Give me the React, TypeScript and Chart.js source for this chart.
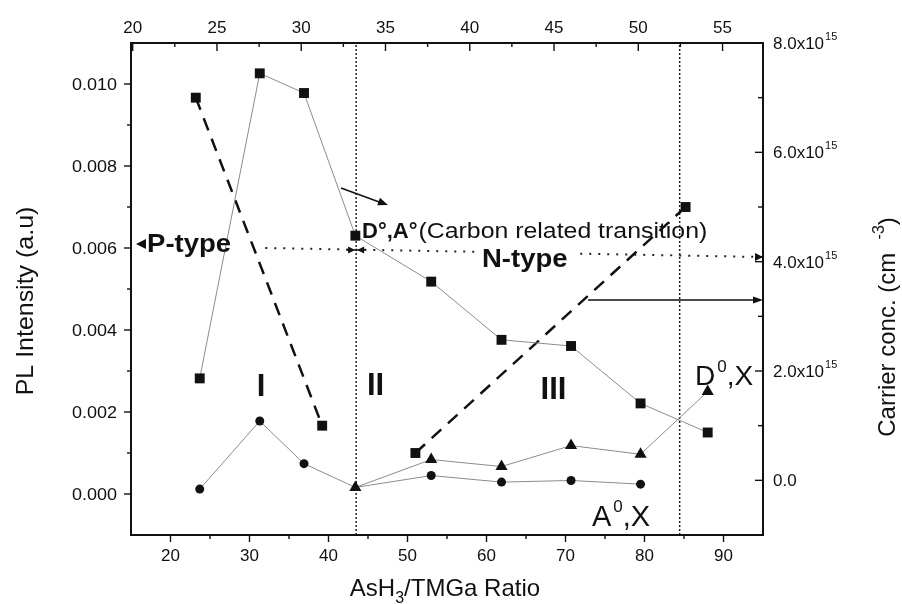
import React, { useEffect, useRef } from 'react';
import { Chart, registerables } from 'chart.js';

Chart.register(...registerables);

// ---------- data ----------
const ratioDA = [23.7, 31.3, 36.9, 43.4, 53.0, 61.9, 70.7, 79.5, 88.0];
const plDA = [0.00282, 0.01026, 0.00978, 0.0063, 0.00518, 0.00376, 0.00361, 0.00221, 0.0015];

const ratioAX = [23.7, 31.3, 36.9, 43.4, 53.0, 61.9, 70.7, 79.5];
const plAX = [0.00012, 0.00178, 0.00074, 0.00016, 0.00045, 0.00029, 0.00033, 0.00024];

const ratioDX = [43.4, 53.0, 61.9, 70.7, 79.5, 88.0];
const plDX = [0.00016, 0.00084, 0.00067, 0.00118, 0.00097, 0.0025];

const ratioPType = [23.2, 39.2];
const concPType = [7.0e15, 1.0e15];
const ratioNType = [51.0, 85.2];
const concNType = [0.5e15, 5.0e15];

const regionBounds = [43.5, 84.45];
const typeLineRatio = [32.0, 95];
const typeLinePL = [0.006, 0.00578];

// ---------- axes ----------
const xMajor = [20, 30, 40, 50, 60, 70, 80, 90];
const xLabels = ['20', '30', '40', '50', '60', '70', '80', '90'];
const xMinor = [25, 35, 45, 55, 65, 75, 85];
const topMajor = [20, 25, 30, 35, 40, 45, 50, 55];
const topLabels = ['20', '25', '30', '35', '40', '45', '50', '55'];
const topMinor = [22.5, 27.5, 32.5, 37.5, 42.5, 47.5, 52.5];
const leftMajor = [0, 0.002, 0.004, 0.006, 0.008, 0.01];
const leftLabels = ['0.000', '0.002', '0.004', '0.006', '0.008', '0.010'];
const leftMinor = [0.001, 0.003, 0.005, 0.007, 0.009];
const rightMajor = [0, 2e15, 4e15, 6e15, 8e15];
const rightMantissa = ['0.0', '2.0x10', '4.0x10', '6.0x10', '8.0x10'];
const rightExponent = ['', '15', '15', '15', '15'];
const rightMinor = [1e15, 3e15, 5e15, 7e15];

const FONT = '"Liberation Sans", Arial, Helvetica, sans-serif';
const NARROW = '"Liberation Sans Narrow", "Arial Narrow", "Liberation Sans", Arial, sans-serif';
const INK = '#111';

function pts(xs: number[], ys: number[]) {
  return xs.map((x, i) => ({ x, y: ys[i] }));
}

type TOpt = { bold?: boolean; align?: CanvasTextAlign; sx?: number; rot?: number; family?: string };

function font(size: number, o: TOpt = {}) {
  return `${o.bold ? 'bold ' : ''}${size}px ${o.family || FONT}`;
}

function drawText(ctx: CanvasRenderingContext2D, s: string, x: number, y: number, size: number, o: TOpt = {}) {
  ctx.save();
  ctx.translate(x, y);
  if (o.rot) ctx.rotate(o.rot);
  ctx.scale(o.sx || 1, 1);
  ctx.font = font(size, o);
  ctx.textAlign = o.align || 'left';
  ctx.textBaseline = 'alphabetic';
  ctx.fillText(s, 0, 0);
  ctx.restore();
}

function textW(ctx: CanvasRenderingContext2D, s: string, size: number, o: TOpt = {}) {
  ctx.save();
  ctx.font = font(size, o);
  const w = ctx.measureText(s).width * (o.sx || 1);
  ctx.restore();
  return w;
}

function head(ctx: CanvasRenderingContext2D, x: number, y: number, ang: number, len: number, half: number) {
  ctx.save();
  ctx.translate(x, y);
  ctx.rotate(ang);
  ctx.beginPath();
  ctx.moveTo(0, 0);
  ctx.lineTo(-len, -half);
  ctx.lineTo(-len, half);
  ctx.closePath();
  ctx.fill();
  ctx.restore();
}

function line(ctx: CanvasRenderingContext2D, x1: number, y1: number, x2: number, y2: number) {
  ctx.beginPath();
  ctx.moveTo(x1, y1);
  ctx.lineTo(x2, y2);
  ctx.stroke();
}

const overlay = {
  id: 'overlay',
  afterDatasetsDraw(chart: any) {
    const ctx: CanvasRenderingContext2D = chart.ctx;
    const ca = chart.chartArea;
    const xs = chart.scales.x, ys = chart.scales.y, xt = chart.scales.x2, yr = chart.scales.y2;
    const X = (v: number) => xs.getPixelForValue(v);
    const Y = (v: number) => ys.getPixelForValue(v);
    ctx.save();
    ctx.fillStyle = INK;
    ctx.strokeStyle = INK;
    ctx.lineCap = 'butt';

    // frame
    ctx.lineWidth = 2;
    ctx.strokeRect(ca.left, ca.top, ca.right - ca.left, ca.bottom - ca.top);

    // tick marks
    ctx.lineWidth = 1.4;
    xMajor.forEach(v => line(ctx, X(v), ca.bottom, X(v), ca.bottom + 7));
    xMinor.forEach(v => line(ctx, X(v), ca.bottom, X(v), ca.bottom + 4));
    topMajor.forEach(v => { const p = xt.getPixelForValue(v); line(ctx, p, ca.top, p, ca.top + 8); });
    topMinor.forEach(v => { const p = xt.getPixelForValue(v); line(ctx, p, ca.top, p, ca.top + 4); });
    leftMajor.forEach(v => line(ctx, ca.left, Y(v), ca.left - 7, Y(v)));
    leftMinor.forEach(v => line(ctx, ca.left, Y(v), ca.left - 4, Y(v)));
    rightMajor.forEach(v => { const p = yr.getPixelForValue(v); line(ctx, ca.right, p, ca.right - 8, p); });
    rightMinor.forEach(v => { const p = yr.getPixelForValue(v); line(ctx, ca.right, p, ca.right - 5, p); });

    // tick labels
    xMajor.forEach((v, i) => drawText(ctx, xLabels[i], X(v), ca.bottom + 26, 17, { align: 'center' }));
    topMajor.forEach((v, i) => drawText(ctx, topLabels[i], xt.getPixelForValue(v), ca.top - 10, 17, { align: 'center' }));
    leftMajor.forEach((v, i) => drawText(ctx, leftLabels[i], ca.left - 14, Y(v) + 6, 17, { align: 'right', sx: 1.06 }));
    rightMajor.forEach((v, i) => {
      const p = yr.getPixelForValue(v);
      const x0 = ca.right + 10;
      drawText(ctx, rightMantissa[i], x0, p + 6, 17);
      if (rightExponent[i]) {
        const w = textW(ctx, rightMantissa[i], 17);
        drawText(ctx, rightExponent[i], x0 + w + 1, p - 3, 11);
      }
    });

    // axis titles
    drawText(ctx, 'PL Intensity (a.u)', 33, 301, 24, { align: 'center', rot: -Math.PI / 2, sx: 1.04 });
    {
      const a = 'AsH', b = '3', c = '/TMGa Ratio';
      const wa = textW(ctx, a, 24), wb = textW(ctx, b, 16), wc = textW(ctx, c, 24);
      let x0 = 445 - (wa + wb + wc) / 2;
      const base = 596;
      drawText(ctx, a, x0, base, 24); x0 += wa;
      drawText(ctx, b, x0, base + 7, 16); x0 += wb;
      drawText(ctx, c, x0, base, 24);
    }
    {
      const a = 'Carrier conc. (cm  ', b = '-3', c = ')';
      const wa = textW(ctx, a, 24), wb = textW(ctx, b, 16), wc = textW(ctx, c, 24);
      ctx.save();
      ctx.translate(895, 327);
      ctx.rotate(-Math.PI / 2);
      let x0 = -(wa + wb + wc) / 2;
      drawText(ctx, a, x0, 0, 24); x0 += wa;
      drawText(ctx, b, x0, -11, 16); x0 += wb;
      drawText(ctx, c, x0, 0, 24);
      ctx.restore();
    }

    // P-type / N-type
    drawText(ctx, 'P-type', X(17.03), Y(0.0059), 25, { bold: true, sx: 1.1 });
    head(ctx, X(15.63), Y(0.0061), Math.PI, 10, 5);
    {
      const nx = X(59.43), ny = Y(0.005537);
      const w = textW(ctx, 'N-type', 25, { bold: true, sx: 1.1 });
      ctx.fillStyle = '#fff';
      ctx.fillRect(nx - 7, ny - 22, w + 14, 26);
      ctx.fillStyle = INK;
      drawText(ctx, 'N-type', nx, ny, 25, { bold: true, sx: 1.1 });
    }
    head(ctx, ca.right, Y(0.00578), 0, 8, 4);

    // D°,A° label
    {
      const x0 = X(44.24), y0 = Y(0.006244);
      drawText(ctx, 'D°,A°', x0, y0, 22, { bold: true });
      const w = textW(ctx, 'D°,A°', 22, { bold: true });
      drawText(ctx, '(Carbon related transition)', x0 + w + 1, y0, 22, { sx: 1.13 });
    }

    // region numerals
    drawText(ctx, 'I', X(31.46), Y(0.00239), 31, { align: 'center', family: NARROW, bold: true });
    drawText(ctx, 'II', X(45.95), Y(0.002415), 31, { align: 'center', family: NARROW, bold: true });
    drawText(ctx, 'III', X(68.48), Y(0.002317), 31, { align: 'center', family: NARROW, bold: true });

    // D0,X and A0,X labels
    {
      let x0 = X(86.39); const y0 = Y(0.002659);
      drawText(ctx, 'D', x0, y0, 28); x0 += textW(ctx, 'D', 28) + 2;
      drawText(ctx, '0', x0, y0 - 13, 17); x0 += textW(ctx, '0', 17);
      drawText(ctx, ',X', x0, y0, 28);
    }
    {
      let x0 = X(73.35); const y0 = Y(-0.00078);
      drawText(ctx, 'A', x0, y0, 29); x0 += textW(ctx, 'A', 29) + 2;
      drawText(ctx, '0', x0, y0 - 14, 17); x0 += textW(ctx, '0', 17);
      drawText(ctx, ',X', x0, y0, 29);
    }

    // arrows
    ctx.lineWidth = 1.5;
    {
      const x1 = X(41.58), y1 = Y(0.007463), x2 = X(47.53), y2 = Y(0.007049);
      line(ctx, x1, y1, x2 - 4, y2 - 1.2);
      head(ctx, x2, y2, Math.atan2(y2 - y1, x2 - x1), 10, 4);
    }
    {
      const y1 = Y(0.004732), x1 = X(72.85);
      line(ctx, x1, y1, ca.right - 6, y1);
      head(ctx, ca.right, y1, 0, 10, 3.5);
    }
    {
      const cx = X(43.5), cy = Y(0.00595);
      ctx.lineWidth = 1.2;
      line(ctx, cx - 10, cy, cx + 10, cy);
      head(ctx, cx - 1, cy, 0, 7, 3.5);
      head(ctx, cx + 1, cy, Math.PI, 7, 3.5);
    }
    ctx.restore();
  },
};

export default function App() {
  const ref = useRef<HTMLCanvasElement>(null);
  useEffect(() => {
    const gray = '#8c8c8c';
    const chart = new Chart(ref.current as HTMLCanvasElement, {
      type: 'line',
      data: {
        datasets: [
          {
            label: 'D°,A°', data: pts(ratioDA, plDA), xAxisID: 'x', yAxisID: 'y',
            borderColor: gray, borderWidth: 1, tension: 0,
            pointStyle: 'rect', pointRadius: 7, pointBackgroundColor: INK, pointBorderColor: INK, pointBorderWidth: 0,
          },
          {
            label: 'D0,X', data: pts(ratioDX, plDX), xAxisID: 'x', yAxisID: 'y',
            borderColor: gray, borderWidth: 1, tension: 0,
            pointStyle: 'triangle', pointRadius: 7, pointBackgroundColor: INK, pointBorderColor: INK, pointBorderWidth: 0,
          },
          {
            label: 'A0,X', data: pts(ratioAX, plAX), xAxisID: 'x', yAxisID: 'y',
            borderColor: gray, borderWidth: 1, tension: 0,
            pointStyle: 'circle', pointRadius: ratioAX.map(v => (v === 43.4 ? 0 : 4.5)),
            pointBackgroundColor: INK, pointBorderColor: INK, pointBorderWidth: 0,
          },
          {
            label: 'P-type carrier', data: pts(ratioPType, concPType), xAxisID: 'x', yAxisID: 'y2',
            borderColor: INK, borderWidth: 2.5, borderDash: [13, 9], tension: 0,
            pointStyle: 'rect', pointRadius: 7, pointBackgroundColor: INK, pointBorderColor: INK, pointBorderWidth: 0,
          },
          {
            label: 'N-type carrier', data: pts(ratioNType, concNType), xAxisID: 'x', yAxisID: 'y2',
            borderColor: INK, borderWidth: 2.5, borderDash: [13, 9], tension: 0,
            pointStyle: 'rect', pointRadius: 7, pointBackgroundColor: INK, pointBorderColor: INK, pointBorderWidth: 0,
          },
          {
            label: 'bound1', data: pts([regionBounds[0], regionBounds[0]], [-0.001, 0.011]), xAxisID: 'x', yAxisID: 'y',
            borderColor: '#222', borderWidth: 1.5, borderDash: [2, 2], pointRadius: 0,
          },
          {
            label: 'bound2', data: pts([regionBounds[1], regionBounds[1]], [-0.001, 0.011]), xAxisID: 'x', yAxisID: 'y',
            borderColor: '#222', borderWidth: 1.5, borderDash: [2, 2], pointRadius: 0,
          },
          {
            label: 'type', data: pts(typeLineRatio, typeLinePL), xAxisID: 'x', yAxisID: 'y',
            borderColor: '#222', borderWidth: 2, borderDash: [2, 7], pointRadius: 0,
          },
        ],
      },
      options: {
        animation: false,
        responsive: true,
        maintainAspectRatio: false,
        devicePixelRatio: 1,
        events: [],
        layout: { padding: 0 },
        plugins: { legend: { display: false }, tooltip: { enabled: false } },
        scales: {
          x: {
            type: 'linear', position: 'bottom', min: 15, max: 95,
            grid: { display: false }, border: { display: false }, ticks: { display: false },
            afterBuildTicks: (s: any) => { s.ticks = [...xMajor, ...xMinor].map(v => ({ value: v })); },
            afterFit: (s: any) => { s.height = 69; },
          },
          x2: {
            type: 'linear', position: 'top', min: 19.9, max: 57.4,
            grid: { display: false }, border: { display: false }, ticks: { display: false },
            afterBuildTicks: (s: any) => { s.ticks = [...topMajor, ...topMinor].map(v => ({ value: v })); },
            afterFit: (s: any) => { s.height = 43; },
          },
          y: {
            type: 'linear', position: 'left', min: -0.001, max: 0.011,
            grid: { display: false }, border: { display: false }, ticks: { display: false },
            afterBuildTicks: (s: any) => { s.ticks = [...leftMajor, ...leftMinor].map(v => ({ value: v })); },
            afterFit: (s: any) => { s.width = 131; },
          },
          y2: {
            type: 'linear', position: 'right', min: -1e15, max: 8e15,
            grid: { display: false }, border: { display: false }, ticks: { display: false },
            afterBuildTicks: (s: any) => { s.ticks = [...rightMajor, ...rightMinor].map(v => ({ value: v })); },
            afterFit: (s: any) => { s.width = 139; },
          },
        },
      } as any,
      plugins: [overlay],
    });
    return () => chart.destroy();
  }, []);
  return (
    <div style={{ position: 'fixed', left: 0, top: 0, width: 902, height: 604, background: '#fff' }}>
      <canvas ref={ref} />
    </div>
  );
}
